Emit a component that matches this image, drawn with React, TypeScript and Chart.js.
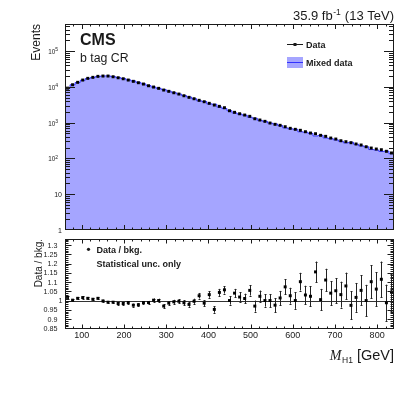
import React, { useEffect, useRef } from 'react';
import { Chart, registerables } from 'chart.js';
Chart.register(...registerables);

// ---------- data ----------
const binCenters = [66, 78, 90, 102, 114, 126, 138, 150, 162, 174, 186, 198, 210, 222, 234, 246, 258, 270, 282, 294, 306, 318, 330, 342, 354, 366, 378, 390, 402, 414, 426, 438, 450, 462, 474, 486, 498, 510, 522, 534, 546, 558, 570, 582, 594, 606, 618, 630, 642, 654, 666, 678, 690, 702, 714, 726, 738, 750, 762, 774, 786, 798, 810, 822, 834];
const BIN_WIDTH = 12;

const dataCounts = [9200, 11450, 13370, 15490, 17270, 18420, 19640, 20040, 20040, 19140, 17950, 16830, 15490, 14250, 13030, 11970, 10730, 9870, 9080, 8140, 7490, 6840, 6290, 5640, 5090, 4650, 4200, 3840, 3460, 3100, 2850, 2610, 2150, 1940, 1770, 1630, 1500, 1285, 1183, 1087, 975, 897, 841, 768, 693, 650, 610, 557, 512, 490, 442, 414, 371, 348, 312, 293, 275, 253, 237, 212, 195, 183, 175, 158, 142];

const mixedCounts = [9050, 11430, 13210, 15250, 17070, 18290, 19410, 20080, 20220, 19310, 18240, 17100, 15660, 14620, 13340, 12100, 10850, 9850, 9080, 8390, 7600, 6890, 6320, 5710, 5200, 4670, 4090, 3890, 3350, 3260, 2730, 2470, 2150, 1865, 1737, 1612, 1422, 1325, 1156, 1087, 975, 920, 829, 715, 675, 650, 554, 541, 500, 424, 440, 373, 357, 330, 302, 272, 282, 249, 225, 212, 177, 172, 157, 160, 136];

const ratioValues = [1.017, 1.002, 1.012, 1.016, 1.012, 1.007, 1.012, 0.998, 0.991, 0.991, 0.984, 0.984, 0.989, 0.975, 0.977, 0.989, 0.989, 1.002, 1.0, 0.970, 0.986, 0.993, 0.996, 0.988, 0.979, 0.996, 1.026, 0.986, 1.032, 0.952, 1.044, 1.058, 1.0, 1.040, 1.019, 1.011, 1.055, 0.970, 1.023, 1.0, 1.0, 0.975, 1.014, 1.074, 1.026, 1.0, 1.102, 1.030, 1.023, 1.155, 1.005, 1.111, 1.040, 1.053, 1.032, 1.079, 0.974, 1.017, 1.055, 1.0, 1.102, 1.062, 1.115, 0.988, 1.046];

const ratioErrors = [0.007, 0.006, 0.006, 0.006, 0.006, 0.006, 0.006, 0.006, 0.006, 0.006, 0.007, 0.007, 0.007, 0.008, 0.008, 0.008, 0.009, 0.009, 0.01, 0.01, 0.011, 0.011, 0.012, 0.013, 0.013, 0.014, 0.015, 0.016, 0.017, 0.018, 0.019, 0.02, 0.022, 0.023, 0.025, 0.026, 0.028, 0.03, 0.031, 0.033, 0.035, 0.037, 0.038, 0.04, 0.043, 0.045, 0.048, 0.05, 0.053, 0.056, 0.058, 0.061, 0.064, 0.067, 0.07, 0.072, 0.075, 0.078, 0.081, 0.085, 0.089, 0.092, 0.096, 0.098, 0.1];

const xTickValues = [100, 200, 300, 400, 500, 600, 700, 800];
const xTickLabels = ['100', '200', '300', '400', '500', '600', '700', '800'];
const topTickValues = [1, 10, 100, 1000, 10000, 100000];
const topTickLabels = ['1', '10', '10^2', '10^3', '10^4', '10^5'];
const ratioTickValues = [0.85, 0.9, 0.95, 1, 1.05, 1.1, 1.15, 1.2, 1.25, 1.3];
const ratioTickLabels = ['0.85', '0.9', '0.95', '1', '1.05', '1.1', '1.15', '1.2', '1.25', '1.3'];

const X_MIN = 60;
const X_MAX = 840;
const TOP_Y_MAX = 5.7e5;
const R_MIN = 0.846;
const R_MAX = 1.333;

const SANS = '"Liberation Sans", Arial, Helvetica, sans-serif';
const SERIF = '"Liberation Serif", "Times New Roman", serif';
const FILL = 'rgb(165,165,255)';
const LINE = 'rgb(50,50,255)';
const INK = '#1a1a1a';

function drawXTicks(ctx: CanvasRenderingContext2D, chart: any, majorLen: number, minorLen: number) {
  const a = chart.chartArea;
  const xs = chart.scales.x;
  ctx.beginPath();
  for (let v = 80; v < X_MAX; v += 20) {
    const px = Math.round(xs.getPixelForValue(v)) + 0.5;
    const len = v % 100 === 0 ? majorLen : minorLen;
    ctx.moveTo(px, a.bottom);
    ctx.lineTo(px, a.bottom - len);
    ctx.moveTo(px, a.top);
    ctx.lineTo(px, a.top + len);
  }
  ctx.stroke();
}

function drawFrame(ctx: CanvasRenderingContext2D, chart: any) {
  const a = chart.chartArea;
  ctx.strokeRect(a.left + 0.5, a.top + 0.5, a.right - a.left - 1, a.bottom - a.top - 1);
}

const topPlugin = {
  id: 'topDeco',
  afterDraw(chart: any) {
    const ctx: CanvasRenderingContext2D = chart.ctx;
    const a = chart.chartArea;
    const ys = chart.scales.y;
    ctx.save();
    ctx.strokeStyle = INK;
    ctx.fillStyle = INK;
    ctx.lineWidth = 1;
    drawFrame(ctx, chart);
    drawXTicks(ctx, chart, 5, 2.5);
    // log y ticks
    ctx.beginPath();
    for (let d = 1; d <= 1e5; d *= 10) {
      for (let m = 1; m <= 9; m++) {
        const v = d * m;
        if (v <= 1 || v >= TOP_Y_MAX) continue;
        const py = Math.round(ys.getPixelForValue(v)) + 0.5;
        const len = m === 1 ? 10 : 5;
        ctx.moveTo(a.left, py);
        ctx.lineTo(a.left + len, py);
        ctx.moveTo(a.right, py);
        ctx.lineTo(a.right - len, py);
      }
    }
    ctx.stroke();
    // y labels
    ctx.textAlign = 'right';
    ctx.textBaseline = 'alphabetic';
    for (let i = 0; i < topTickValues.length; i++) {
      const py = ys.getPixelForValue(topTickValues[i]);
      const lab = topTickLabels[i];
      const m = lab.match(/^10\^(\d+)$/);
      if (m) {
        ctx.font = `5px ${SANS}`;
        const ew = ctx.measureText(m[1]).width;
        ctx.fillText(m[1], 58, py + 0.3);
        ctx.font = `6.3px ${SANS}`;
        ctx.fillText('10', 58 - ew, py + 3);
      } else {
        ctx.font = `7px ${SANS}`;
        ctx.fillText(lab, 62, py + 2.5);
      }
    }
    // y title
    ctx.save();
    ctx.translate(40, a.top);
    ctx.rotate(-Math.PI / 2);
    ctx.font = `12px ${SANS}`;
    ctx.textAlign = 'right';
    ctx.fillText('Events', 0, 0);
    ctx.restore();
    // CMS labels
    ctx.textAlign = 'left';
    ctx.font = `bold 16px ${SANS}`;
    ctx.fillText('CMS', 80, 45);
    ctx.font = `12.3px ${SANS}`;
    ctx.fillText('b tag CR', 80, 62);
    // lumi
    ctx.textAlign = 'left';
    ctx.font = `13px ${SANS}`;
    const p1 = '35.9 fb';
    const p3 = ' (13 TeV)';
    const w1 = ctx.measureText(p1).width;
    const w3 = ctx.measureText(p3).width;
    ctx.font = `8.5px ${SANS}`;
    const p2 = '-1';
    const w2 = ctx.measureText(p2).width;
    const right = 394;
    const x3 = right - w3;
    const x2 = x3 - w2 - 0.5;
    const x1 = x2 - w1 - 0.5;
    ctx.fillText(p2, x2, 14.5);
    ctx.font = `13px ${SANS}`;
    ctx.fillText(p1, x1, 20);
    ctx.fillText(p3, x3, 20);
    // legend
    ctx.beginPath();
    ctx.moveTo(287, 44.5);
    ctx.lineTo(303, 44.5);
    ctx.stroke();
    ctx.fillRect(293.5, 43, 3, 3);
    ctx.fillStyle = FILL;
    ctx.fillRect(287, 57, 16, 11);
    ctx.strokeStyle = LINE;
    ctx.beginPath();
    ctx.moveTo(287, 62.5);
    ctx.lineTo(303, 62.5);
    ctx.stroke();
    ctx.fillStyle = INK;
    ctx.font = `bold 9px ${SANS}`;
    ctx.fillText('Data', 306, 47.8);
    ctx.fillText('Mixed data', 306, 65.5);
    ctx.restore();
  },
};

const bottomPlugin = {
  id: 'bottomDeco',
  beforeDatasetsDraw(chart: any) {
    const ctx: CanvasRenderingContext2D = chart.ctx;
    const a = chart.chartArea;
    const xs = chart.scales.x;
    const ys = chart.scales.y;
    ctx.save();
    // line at 1
    ctx.strokeStyle = '#333';
    ctx.lineWidth = 1;
    const p1 = Math.round(ys.getPixelForValue(1)) + 0.5;
    ctx.beginPath();
    ctx.moveTo(a.left, p1);
    ctx.lineTo(a.right, p1);
    ctx.stroke();
    // error bars
    ctx.strokeStyle = '#222';
    ctx.beginPath();
    for (let i = 0; i < binCenters.length; i++) {
      const px = Math.round(xs.getPixelForValue(binCenters[i])) + 0.5;
      const lo = ys.getPixelForValue(ratioValues[i] - ratioErrors[i]);
      const hi = ys.getPixelForValue(ratioValues[i] + ratioErrors[i]);
      ctx.moveTo(px, lo);
      ctx.lineTo(px, hi);
      ctx.moveTo(px - 1, Math.round(lo) + 0.5);
      ctx.lineTo(px + 1, Math.round(lo) + 0.5);
      ctx.moveTo(px - 1, Math.round(hi) + 0.5);
      ctx.lineTo(px + 1, Math.round(hi) + 0.5);
    }
    ctx.stroke();
    ctx.restore();
  },
  afterDraw(chart: any) {
    const ctx: CanvasRenderingContext2D = chart.ctx;
    const a = chart.chartArea;
    const ys = chart.scales.y;
    ctx.save();
    ctx.strokeStyle = INK;
    ctx.fillStyle = INK;
    ctx.lineWidth = 1;
    drawFrame(ctx, chart);
    drawXTicks(ctx, chart, 4.5, 2.5);
    ctx.beginPath();
    for (let k = 85; k <= 133; k++) {
      const v = k / 100;
      if (v <= R_MIN || v >= R_MAX) continue;
      const py = Math.round(ys.getPixelForValue(v)) + 0.5;
      const len = k % 5 === 0 ? 6.5 : 3.5;
      ctx.moveTo(a.left, py);
      ctx.lineTo(a.left + len, py);
      ctx.moveTo(a.right, py);
      ctx.lineTo(a.right - len, py);
    }
    ctx.stroke();
    // y labels
    ctx.textAlign = 'right';
    ctx.font = `7.2px ${SANS}`;
    for (let i = 0; i < ratioTickValues.length; i++) {
      const py = ys.getPixelForValue(ratioTickValues[i]);
      const lab = ratioTickLabels[i];
      const rx = lab === '1' ? 62.5 : 57.5;
      ctx.fillText(lab, rx, py + 2.6);
    }
    // y title
    ctx.save();
    ctx.translate(42, a.top);
    ctx.rotate(-Math.PI / 2);
    ctx.font = `10px ${SANS}`;
    ctx.textAlign = 'right';
    ctx.fillText('Data / bkg.', 0, 0);
    ctx.restore();
    // legend
    ctx.beginPath();
    ctx.arc(88.5, 249.3 - 234, 1.6, 0, Math.PI * 2);
    ctx.fill();
    ctx.textAlign = 'left';
    ctx.font = `bold 9px ${SANS}`;
    ctx.fillText('Data / bkg.', 96.5, 252.6 - 234);
    ctx.fillText('Statistical unc. only', 96.5, 266.6 - 234);
    // x title
    const base = 360 - 234;
    ctx.font = `14.5px ${SANS}`;
    const gev = ' [GeV]';
    const wg = ctx.measureText(gev).width;
    const xg = 394 - wg;
    ctx.fillText(gev, xg, base);
    ctx.font = `8.5px ${SANS}`;
    const wh = ctx.measureText('H1').width;
    const xh = xg - wh;
    ctx.fillText('H1', xh, base + 2.6);
    ctx.font = `italic 14px ${SERIF}`;
    const wm = ctx.measureText('M').width;
    ctx.fillText('M', xh - wm - 0.5, base);
    ctx.restore();
  },
};

export default function App() {
  const topRef = useRef<HTMLCanvasElement>(null);
  const botRef = useRef<HTMLCanvasElement>(null);

  useEffect(() => {
    if (!topRef.current || !botRef.current) return;

    const histPoints = binCenters.map((c, i) => ({ x: c - BIN_WIDTH / 2, y: mixedCounts[i] }));
    histPoints.push({ x: binCenters[binCenters.length - 1] + BIN_WIDTH / 2, y: mixedCounts[mixedCounts.length - 1] });
    const dataPoints = binCenters.map((c, i) => ({ x: c, y: dataCounts[i] }));
    const ratioPoints = binCenters.map((c, i) => ({ x: c, y: ratioValues[i] }));

    const top = new Chart(topRef.current, {
      type: 'scatter',
      data: {
        datasets: [
          {
            label: 'Data',
            data: dataPoints,
            showLine: false,
            pointStyle: 'rect',
            pointRadius: 2.1,
            pointBorderWidth: 0,
            pointBackgroundColor: '#000',
            order: 0,
          } as any,
          {
            type: 'line',
            label: 'Mixed data',
            data: histPoints,
            stepped: 'before',
            borderColor: LINE,
            borderWidth: 1,
            backgroundColor: FILL,
            fill: 'start',
            pointRadius: 0,
            order: 1,
          } as any,
        ],
      },
      options: {
        responsive: false,
        animation: false,
        events: [],
        layout: { padding: { top: 24, right: 13, bottom: 4, left: 0 } },
        plugins: { legend: { display: false }, tooltip: { enabled: false } },
        scales: {
          x: { type: 'linear', min: X_MIN, max: X_MAX, display: false },
          y: {
            type: 'logarithmic',
            min: 1,
            max: TOP_Y_MAX,
            ticks: { display: false },
            grid: { display: false },
            border: { display: false },
            afterFit: (s: any) => { s.width = 65; },
          },
        },
      } as any,
      plugins: [topPlugin],
    });

    const bot = new Chart(botRef.current, {
      type: 'scatter',
      data: {
        datasets: [
          {
            label: 'Data / bkg.',
            data: ratioPoints,
            pointStyle: 'rect',
            pointRadius: 2.1,
            pointBorderWidth: 0,
            pointBackgroundColor: '#000',
          } as any,
        ],
      },
      options: {
        responsive: false,
        animation: false,
        events: [],
        layout: { padding: { top: 5, right: 13, bottom: 46, left: 0 } },
        plugins: { legend: { display: false }, tooltip: { enabled: false } },
        scales: {
          x: {
            type: 'linear',
            min: X_MIN,
            max: X_MAX,
            grid: { display: false, drawTicks: false },
            border: { display: false },
            afterBuildTicks: (s: any) => { s.ticks = xTickValues.map((v) => ({ value: v })); },
            afterFit: (s: any) => { s.height = 20; },
            ticks: {
              autoSkip: false,
              maxRotation: 0,
              padding: 1,
              color: INK,
              font: { family: SANS, size: 9 },
              callback: (v: any) => {
                const idx = xTickValues.indexOf(Number(v));
                return idx >= 0 ? xTickLabels[idx] : '';
              },
            },
          },
          y: {
            type: 'linear',
            min: R_MIN,
            max: R_MAX,
            ticks: { display: false },
            grid: { display: false },
            border: { display: false },
            afterFit: (s: any) => { s.width = 65; },
          },
        },
      } as any,
      plugins: [bottomPlugin],
    });

    return () => {
      top.destroy();
      bot.destroy();
    };
  }, []);

  return (
    <div style={{ position: 'fixed', left: 0, top: 0, width: 407, height: 395, background: '#fff' }}>
      <canvas ref={topRef} width={407} height={234} style={{ position: 'absolute', left: 0, top: 0, width: 407, height: 234 }} />
      <canvas ref={botRef} width={407} height={161} style={{ position: 'absolute', left: 0, top: 234, width: 407, height: 161 }} />
    </div>
  );
}
